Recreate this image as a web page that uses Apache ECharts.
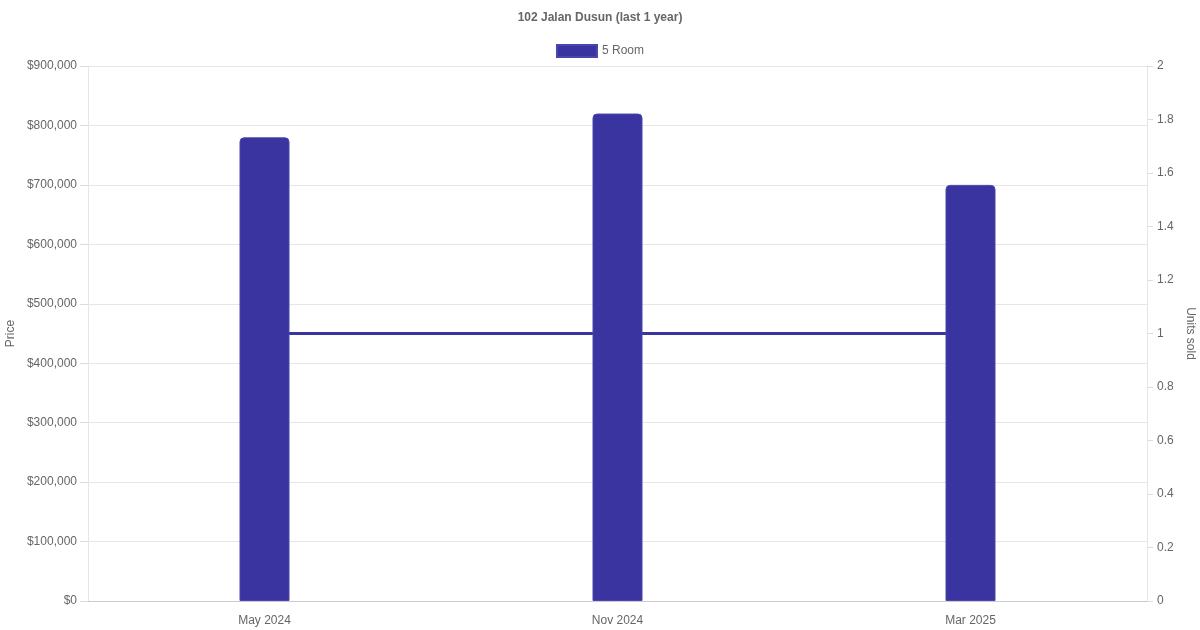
<!DOCTYPE html>
<html>
<head>
<meta charset="utf-8">
<script src="https://cdn.jsdelivr.net/npm/echarts@6/dist/echarts.min.js"></script>
<style>
  html, body { margin: 0; padding: 0; background: #fff; }
  #chart { width: 1200px; height: 630px; }
</style>
</head>
<body>
<div id="chart"></div>
<script>
// sale months
var months = ['May 2024', 'Nov 2024', 'Mar 2025'];
// median price per month (5 Room)
var prices = [780000, 820000, 700000];
// units sold per month
var units = [1, 1, 1];

var textColor = '#666';
var gridColor = '#e6e6e6';
var barColor = '#39349f';

var myChart = echarts.init(document.getElementById('chart'));

var option = {
  animation: false,
  textStyle: { fontFamily: 'Liberation Sans, Arial, sans-serif' },
  title: {
    text: '102 Jalan Dusun (last 1 year)',
    left: 'center',
    top: 7,
    textStyle: { fontSize: 12, fontWeight: 'bold', color: textColor }
  },
  legend: {
    data: ['5 Room'],
    top: 44,
    left: 'center',
    itemWidth: 40,
    itemHeight: 12,
    itemGap: 6,
    icon: 'rect',
    padding: 0,
    textStyle: { fontSize: 12, color: textColor }
  },
  grid: { left: 88, right: 53, top: 66, bottom: 29, outerBoundsMode: 'none' },
  xAxis: {
    type: 'category',
    data: months,
    boundaryGap: true,
    axisLine: { lineStyle: { color: '#ccc' } },
    axisTick: { show: false },
    axisLabel: { color: textColor, fontSize: 12, margin: 14 }
  },
  yAxis: [{
    type: 'value',
    name: 'Price',
    nameLocation: 'middle',
    nameGap: 71,
    nameMoveOverlap: false,
    nameTextStyle: { color: textColor, fontSize: 12 },
    min: 0,
    max: 900000,
    interval: 100000,
    axisLine: { show: true, lineStyle: { color: gridColor } },
    axisTick: { show: true, length: 8, lineStyle: { color: '#dcdcdc' } },
    splitLine: { lineStyle: { color: gridColor } },
    axisLabel: {
      color: textColor,
      fontSize: 12,
      margin: 11,
      formatter: function(v) { return '$' + v.toLocaleString('en-US'); }
    }
  }, {
    type: 'value',
    name: 'Units sold',
    nameLocation: 'middle',
    nameGap: 36,
    nameRotate: -90,
    nameTextStyle: { color: textColor, fontSize: 12 },
    min: 0,
    max: 2,
    interval: 0.2,
    axisLine: { show: true, lineStyle: { color: gridColor } },
    axisTick: { show: true, length: 6, lineStyle: { color: '#dcdcdc' } },
    splitLine: { show: false },
    axisLabel: { color: textColor, fontSize: 12, margin: 10 }
  }],
  series: [{
    name: 'Units sold',
    type: 'line',
    yAxisIndex: 1,
    data: units,
    z: 1,
    symbol: 'none',
    lineStyle: { color: barColor, width: 3 },
    itemStyle: { color: barColor }
  }, {
    name: '5 Room',
    type: 'bar',
    yAxisIndex: 0,
    data: prices,
    z: 3,
    barWidth: 50,
    itemStyle: {
      color: barColor,
      borderColor: '#4a46ab',
      borderWidth: 1,
      borderRadius: [4, 4, 0, 0]
    }
  }]
};

myChart.setOption(option);
</script>
</body>
</html>
